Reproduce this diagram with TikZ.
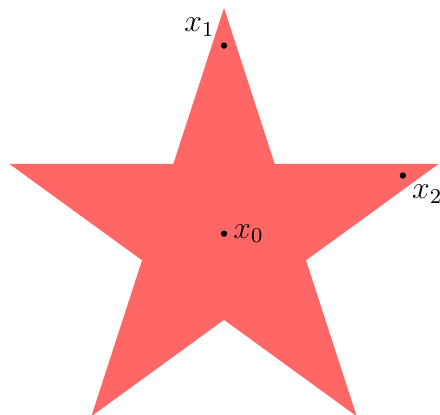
\documentclass[tikz,border=0pt]{standalone}
\usepackage{tikz}
\begin{document}
\begin{tikzpicture}[every node/.style={font=\large}]
\def\R{3}
\def\r{1.146}
\useasboundingbox (-2.978,-2.41) rectangle (2.871,3.106);
\fill[red!60] (90:\R) \foreach \a in {0,...,4} { -- (90+72*\a:\R) -- (126+72*\a:\r) } -- cycle;
\coordinate (x0) at (0,0);
\coordinate (x1) at (90:2.5);
\coordinate (x2) at (18:2.5);
\fill (x0) circle (1.2pt);
\fill (x1) circle (1.2pt);
\fill (x2) circle (1.2pt);
\node[right] (l0) at (x0) {$x_0$};
\node[above left] (l1) at (x1) {$x_1$};
\node[below right] (l2) at (x2) {$x_2$};
\end{tikzpicture}
\end{document}
